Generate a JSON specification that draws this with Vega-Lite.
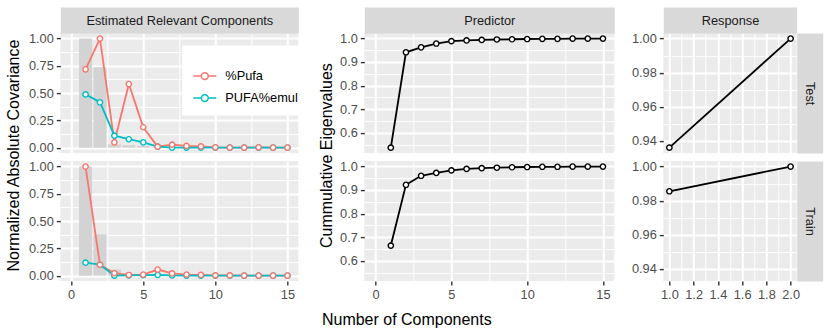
{
  "$schema": "https://vega.github.io/schema/vega-lite/v6.json",
  "padding": {"left": 5.3, "top": 14.1, "right": 8, "bottom": 4},
  "config": {
    "font": "Liberation Sans",
    "view": {"stroke": null},
    "axis": {
      "domain": false,
      "labelColor": "#4D4D4D",
      "labelFontSize": 12.8,
      "labelPadding": 3,
      "labelFlush": false,
      "labelOverlap": false,
      "tickColor": "#333333",
      "tickSize": 4,
      "tickWidth": 1.4,
      "gridColor": "#FFFFFF",
      "titleFontSize": 16,
      "titleFontWeight": "normal",
      "titleColor": "#000000"
    }
  },
  "datasets": {
    "cov": [
      {"set": "Test", "var": "%Pufa", "comp": 1, "value": 0.718},
      {"set": "Test", "var": "%Pufa", "comp": 2, "value": 1.0},
      {"set": "Test", "var": "%Pufa", "comp": 3, "value": 0.049},
      {"set": "Test", "var": "%Pufa", "comp": 4, "value": 0.583},
      {"set": "Test", "var": "%Pufa", "comp": 5, "value": 0.187},
      {"set": "Test", "var": "%Pufa", "comp": 6, "value": 0.009},
      {"set": "Test", "var": "%Pufa", "comp": 7, "value": 0.028},
      {"set": "Test", "var": "%Pufa", "comp": 8, "value": 0.016},
      {"set": "Test", "var": "%Pufa", "comp": 9, "value": 0.012},
      {"set": "Test", "var": "%Pufa", "comp": 10, "value": 0.003},
      {"set": "Test", "var": "%Pufa", "comp": 11, "value": 0.001},
      {"set": "Test", "var": "%Pufa", "comp": 12, "value": 0.001},
      {"set": "Test", "var": "%Pufa", "comp": 13, "value": 0.003},
      {"set": "Test", "var": "%Pufa", "comp": 14, "value": 0.001},
      {"set": "Test", "var": "%Pufa", "comp": 15, "value": 0.001},
      {"set": "Test", "var": "PUFA%emul", "comp": 1, "value": 0.488},
      {"set": "Test", "var": "PUFA%emul", "comp": 2, "value": 0.416},
      {"set": "Test", "var": "PUFA%emul", "comp": 3, "value": 0.11},
      {"set": "Test", "var": "PUFA%emul", "comp": 4, "value": 0.077},
      {"set": "Test", "var": "PUFA%emul", "comp": 5, "value": 0.049},
      {"set": "Test", "var": "PUFA%emul", "comp": 6, "value": 0.009},
      {"set": "Test", "var": "PUFA%emul", "comp": 7, "value": 0.001},
      {"set": "Test", "var": "PUFA%emul", "comp": 8, "value": 0.001},
      {"set": "Test", "var": "PUFA%emul", "comp": 9, "value": 0.001},
      {"set": "Test", "var": "PUFA%emul", "comp": 10, "value": 0.0},
      {"set": "Test", "var": "PUFA%emul", "comp": 11, "value": 0.0},
      {"set": "Test", "var": "PUFA%emul", "comp": 12, "value": 0.0},
      {"set": "Test", "var": "PUFA%emul", "comp": 13, "value": 0.0},
      {"set": "Test", "var": "PUFA%emul", "comp": 14, "value": 0.0},
      {"set": "Test", "var": "PUFA%emul", "comp": 15, "value": 0.0},
      {"set": "Train", "var": "%Pufa", "comp": 1, "value": 1.0},
      {"set": "Train", "var": "%Pufa", "comp": 2, "value": 0.1},
      {"set": "Train", "var": "%Pufa", "comp": 3, "value": 0.022},
      {"set": "Train", "var": "%Pufa", "comp": 4, "value": 0.006},
      {"set": "Train", "var": "%Pufa", "comp": 5, "value": 0.01},
      {"set": "Train", "var": "%Pufa", "comp": 6, "value": 0.056},
      {"set": "Train", "var": "%Pufa", "comp": 7, "value": 0.02},
      {"set": "Train", "var": "%Pufa", "comp": 8, "value": 0.01},
      {"set": "Train", "var": "%Pufa", "comp": 9, "value": 0.007},
      {"set": "Train", "var": "%Pufa", "comp": 10, "value": 0.002},
      {"set": "Train", "var": "%Pufa", "comp": 11, "value": 0.002},
      {"set": "Train", "var": "%Pufa", "comp": 12, "value": 0.001},
      {"set": "Train", "var": "%Pufa", "comp": 13, "value": 0.001},
      {"set": "Train", "var": "%Pufa", "comp": 14, "value": 0.001},
      {"set": "Train", "var": "%Pufa", "comp": 15, "value": 0.001},
      {"set": "Train", "var": "PUFA%emul", "comp": 1, "value": 0.119},
      {"set": "Train", "var": "PUFA%emul", "comp": 2, "value": 0.1},
      {"set": "Train", "var": "PUFA%emul", "comp": 3, "value": 0.0},
      {"set": "Train", "var": "PUFA%emul", "comp": 4, "value": 0.002},
      {"set": "Train", "var": "PUFA%emul", "comp": 5, "value": 0.004},
      {"set": "Train", "var": "PUFA%emul", "comp": 6, "value": 0.006},
      {"set": "Train", "var": "PUFA%emul", "comp": 7, "value": 0.002},
      {"set": "Train", "var": "PUFA%emul", "comp": 8, "value": 0.001},
      {"set": "Train", "var": "PUFA%emul", "comp": 9, "value": 0.001},
      {"set": "Train", "var": "PUFA%emul", "comp": 10, "value": 0.0},
      {"set": "Train", "var": "PUFA%emul", "comp": 11, "value": 0.0},
      {"set": "Train", "var": "PUFA%emul", "comp": 12, "value": 0.0},
      {"set": "Train", "var": "PUFA%emul", "comp": 13, "value": 0.0},
      {"set": "Train", "var": "PUFA%emul", "comp": 14, "value": 0.0},
      {"set": "Train", "var": "PUFA%emul", "comp": 15, "value": 0.0}
    ],
    "bars": [
      {"set": "Test", "comp": 1, "value": 1.0},
      {"set": "Test", "comp": 2, "value": 0.736},
      {"set": "Test", "comp": 3, "value": 0.03},
      {"set": "Test", "comp": 4, "value": 0.022},
      {"set": "Test", "comp": 5, "value": 0.015},
      {"set": "Test", "comp": 6, "value": 0.004},
      {"set": "Test", "comp": 7, "value": 0.003},
      {"set": "Test", "comp": 8, "value": 0.002},
      {"set": "Test", "comp": 9, "value": 0.001},
      {"set": "Test", "comp": 10, "value": 0.001},
      {"set": "Test", "comp": 11, "value": 0.001},
      {"set": "Test", "comp": 12, "value": 0.001},
      {"set": "Test", "comp": 13, "value": 0.001},
      {"set": "Test", "comp": 14, "value": 0.001},
      {"set": "Test", "comp": 15, "value": 0.001},
      {"set": "Train", "comp": 1, "value": 1.0},
      {"set": "Train", "comp": 2, "value": 0.378},
      {"set": "Train", "comp": 3, "value": 0.056},
      {"set": "Train", "comp": 4, "value": 0.01},
      {"set": "Train", "comp": 5, "value": 0.006},
      {"set": "Train", "comp": 6, "value": 0.004},
      {"set": "Train", "comp": 7, "value": 0.002},
      {"set": "Train", "comp": 8, "value": 0.001},
      {"set": "Train", "comp": 9, "value": 0.001},
      {"set": "Train", "comp": 10, "value": 0.001},
      {"set": "Train", "comp": 11, "value": 0.001},
      {"set": "Train", "comp": 12, "value": 0.001},
      {"set": "Train", "comp": 13, "value": 0.001},
      {"set": "Train", "comp": 14, "value": 0.001},
      {"set": "Train", "comp": 15, "value": 0.001}
    ],
    "eig": [
      {"set": "Test", "comp": 1, "value": 0.538},
      {"set": "Test", "comp": 2, "value": 0.941},
      {"set": "Test", "comp": 3, "value": 0.962},
      {"set": "Test", "comp": 4, "value": 0.978},
      {"set": "Test", "comp": 5, "value": 0.988},
      {"set": "Test", "comp": 6, "value": 0.991},
      {"set": "Test", "comp": 7, "value": 0.993},
      {"set": "Test", "comp": 8, "value": 0.995},
      {"set": "Test", "comp": 9, "value": 0.996},
      {"set": "Test", "comp": 10, "value": 0.997},
      {"set": "Test", "comp": 11, "value": 0.998},
      {"set": "Test", "comp": 12, "value": 0.998},
      {"set": "Test", "comp": 13, "value": 0.999},
      {"set": "Test", "comp": 14, "value": 0.999},
      {"set": "Test", "comp": 15, "value": 0.999},
      {"set": "Train", "comp": 1, "value": 0.665},
      {"set": "Train", "comp": 2, "value": 0.922},
      {"set": "Train", "comp": 3, "value": 0.96},
      {"set": "Train", "comp": 4, "value": 0.972},
      {"set": "Train", "comp": 5, "value": 0.983},
      {"set": "Train", "comp": 6, "value": 0.989},
      {"set": "Train", "comp": 7, "value": 0.992},
      {"set": "Train", "comp": 8, "value": 0.994},
      {"set": "Train", "comp": 9, "value": 0.996},
      {"set": "Train", "comp": 10, "value": 0.997},
      {"set": "Train", "comp": 11, "value": 0.998},
      {"set": "Train", "comp": 12, "value": 0.998},
      {"set": "Train", "comp": 13, "value": 0.999},
      {"set": "Train", "comp": 14, "value": 0.999},
      {"set": "Train", "comp": 15, "value": 0.999}
    ],
    "resp": [
      {"set": "Test", "comp": 1, "value": 0.936},
      {"set": "Test", "comp": 2, "value": 1.0},
      {"set": "Train", "comp": 1, "value": 0.9855},
      {"set": "Train", "comp": 2, "value": 1.0}
    ]
  },
  "columns": 5,
  "spacing": {"row": 8, "column": 0},
  "bounds": "flush",
  "align": "each",
  "resolve": {"scale": {"color": "independent"}, "legend": {"color": "independent"}},
  "concat": [
    {
      "width": 238, "height": 120,
      "view": {"fill": "#EBEBEB"},
      "encoding": {
        "x": {"field": "comp", "type": "quantitative", "scale": {"domain": [-0.75, 15.75], "nice": false, "zero": false, "padding": 0},
          "axis": {"orient": "top", "offset": 13, "domain": true, "domainColor": "#D9D9D9", "domainWidth": 26, "ticks": false, "labels": false, "grid": true,
            "values": [0, 2.5, 5, 7.5, 10, 12.5, 15],
            "gridWidth": {"condition": {"test": "datum.value % 5 === 0", "value": 2}, "value": 1},
            "title": "Estimated Relevant Components", "titleFontSize": 12.8, "titleColor": "#1A1A1A", "titleBaseline": "middle", "titleX": 119, "titleY": 0, "minExtent": 0, "maxExtent": 0}},
        "y": {"field": "value", "type": "quantitative", "scale": {"domain": [-0.05, 1.05], "nice": false},
          "axis": {"orient": "left", "values": [0, 0.125, 0.25, 0.375, 0.5, 0.625, 0.75, 0.875, 1], "grid": true,
            "gridWidth": {"condition": {"test": "abs(datum.value*4-round(datum.value*4))<0.001", "value": 2}, "value": 1},
            "tickOpacity": {"condition": {"test": "abs(datum.value*4-round(datum.value*4))<0.001", "value": 1}, "value": 0},
            "labelExpr": "abs(datum.value*4-round(datum.value*4))<0.001 ? format(datum.value, '.2f') : ''",
            "title": "Normalized Absolute Covariance", "titleX": -46.5, "titleY": 122, "titleBaseline": "middle"}}
      },
      "layer": [
        {
          "data": {"name": "bars"},
          "transform": [{"filter": "datum.set === 'Test'"}],
          "mark": {"type": "bar", "orient": "vertical", "width": 13, "color": "#D3D3D3"}
        },
        {
          "data": {"name": "cov"},
          "transform": [{"filter": "datum.set === 'Test'"}],
          "mark": {"type": "line", "strokeWidth": 1.8},
          "encoding": {
            "color": {"field": "var", "type": "nominal", "scale": {"domain": ["%Pufa", "PUFA%emul"], "range": ["#F8766D", "#00BFC4"]},
              "legend": {"orient": "none", "legendX": 122, "legendY": 12.5, "title": " ", "titleFontSize": 8, "titlePadding": 0,
                "fillColor": "#FFFFFF", "padding": 10, "symbolType": "M-1,0L-0.3,0M0.3,0L1,0M0.3,0A0.3,0.3,0,1,1,-0.3,0A0.3,0.3,0,1,1,0.3,0",
                "symbolSize": 529, "symbolStrokeWidth": 1.5, "symbolFillColor": "#FFFFFF", "labelFontSize": 12.8, "labelColor": "#000000", "labelOffset": 8, "rowPadding": 2,
                "encode": {"symbols": {"update": {"fill": {"value": "#FFFFFF"}, "strokeWidth": {"value": 1.5}}}}}}
          }
        },
        {
          "data": {"name": "cov"},
          "transform": [{"filter": "datum.set === 'Test'"}],
          "mark": {"type": "point", "shape": "circle", "filled": false, "fill": "#FFFFFF", "opacity": 1, "size": 28, "strokeWidth": 1.4},
          "encoding": {
            "color": {"field": "var", "type": "nominal", "scale": {"domain": ["%Pufa", "PUFA%emul"], "range": ["#F8766D", "#00BFC4"]},
              "legend": {"orient": "none", "legendX": 122, "legendY": 12.5, "title": " ", "titleFontSize": 8, "titlePadding": 0,
                "fillColor": "#FFFFFF", "padding": 10, "symbolType": "M-1,0L-0.3,0M0.3,0L1,0M0.3,0A0.3,0.3,0,1,1,-0.3,0A0.3,0.3,0,1,1,0.3,0",
                "symbolSize": 529, "symbolStrokeWidth": 1.5, "symbolFillColor": "#FFFFFF", "labelFontSize": 12.8, "labelColor": "#000000", "labelOffset": 8, "rowPadding": 2,
                "encode": {"symbols": {"update": {"fill": {"value": "#FFFFFF"}, "strokeWidth": {"value": 1.5}}}}}},
            "order": {"field": "var", "sort": "descending"}
          }
        }
      ]
    },
    {"width": 65.6, "height": 10, "data": {"values": []}, "mark": "point"},
    {
      "width": 250, "height": 120,
      "view": {"fill": "#EBEBEB"},
      "data": {"name": "eig"},
      "transform": [{"filter": "datum.set === 'Test'"}],
      "encoding": {
        "x": {"field": "comp", "type": "quantitative", "scale": {"domain": [-0.75, 15.75], "nice": false, "zero": false},
          "axis": {"orient": "top", "offset": 13, "domain": true, "domainColor": "#D9D9D9", "domainWidth": 26, "ticks": false, "labels": false, "grid": true,
            "values": [0, 2.5, 5, 7.5, 10, 12.5, 15],
            "gridWidth": {"condition": {"test": "datum.value % 5 === 0", "value": 2}, "value": 1},
            "title": "Predictor", "titleFontSize": 12.8, "titleColor": "#1A1A1A", "titleBaseline": "middle", "titleX": 125, "titleY": 0, "minExtent": 0, "maxExtent": 0}},
        "y": {"field": "value", "type": "quantitative", "scale": {"domain": [0.515, 1.022], "nice": false, "zero": false},
          "axis": {"orient": "left", "values": [0.55, 0.6, 0.65, 0.7, 0.75, 0.8, 0.85, 0.9, 0.95, 1.0], "grid": true,
            "gridWidth": {"condition": {"test": "abs(datum.value*10-round(datum.value*10))<0.001", "value": 2}, "value": 1},
            "tickOpacity": {"condition": {"test": "abs(datum.value*10-round(datum.value*10))<0.001", "value": 1}, "value": 0},
            "labelExpr": "abs(datum.value*10-round(datum.value*10))<0.001 ? format(datum.value, '.1f') : ''",
            "title": "Cummulative Eigenvalues", "titleX": -37.8, "titleY": 122, "titleBaseline": "middle"}}
      },
      "layer": [
        {"mark": {"type": "line", "color": "#000000", "strokeWidth": 1.8}},
        {"mark": {"type": "point", "shape": "circle", "filled": false, "fill": "#FFFFFF", "stroke": "#000000", "opacity": 1, "size": 28, "strokeWidth": 1.4}}
      ]
    },
    {"width": 48.4, "height": 10, "data": {"values": []}, "mark": "point"},
    {
      "width": 133.4, "height": 120,
      "view": {"fill": "#EBEBEB"},
      "data": {"name": "resp"},
      "transform": [{"filter": "datum.set === 'Test'"}],
      "resolve": {"axis": {"y": "independent"}},
      "encoding": {
        "x": {"field": "comp", "type": "quantitative", "scale": {"domain": [0.95, 2.05], "nice": false, "zero": false},
          "axis": {"orient": "top", "offset": 13, "domain": true, "domainColor": "#D9D9D9", "domainWidth": 26, "ticks": false, "labels": false, "grid": true,
            "values": [1.0, 1.1, 1.2, 1.3, 1.4, 1.5, 1.6, 1.7, 1.8, 1.9, 2.0],
            "gridWidth": {"condition": {"test": "abs(datum.value*5-round(datum.value*5))<0.001", "value": 2}, "value": 1},
            "title": "Response", "titleFontSize": 12.8, "titleColor": "#1A1A1A", "titleBaseline": "middle", "titleX": 66.7, "titleY": 0, "minExtent": 0, "maxExtent": 0}},
        "y": {"field": "value", "type": "quantitative", "scale": {"domain": [0.9328, 1.0032], "nice": false, "zero": false},
          "axis": {"orient": "left", "values": [0.94, 0.95, 0.96, 0.97, 0.98, 0.99, 1.0], "grid": true,
            "gridWidth": {"condition": {"test": "abs(datum.value*50-round(datum.value*50))<0.001", "value": 2}, "value": 1},
            "tickOpacity": {"condition": {"test": "abs(datum.value*50-round(datum.value*50))<0.001", "value": 1}, "value": 0},
            "labelExpr": "abs(datum.value*50-round(datum.value*50))<0.001 ? format(datum.value, '.2f') : ''",
            "title": null}}
      },
      "layer": [
        {"mark": {"type": "line", "color": "#000000", "strokeWidth": 1.8}},
        {
          "mark": {"type": "point", "shape": "circle", "filled": false, "fill": "#FFFFFF", "stroke": "#000000", "opacity": 1, "size": 28, "strokeWidth": 1.4},
          "encoding": {
            "y": {"field": "value", "type": "quantitative", "scale": {"domain": [0.9328, 1.0032], "nice": false, "zero": false},
              "axis": {"orient": "right", "offset": 13, "domain": true, "domainColor": "#D9D9D9", "domainWidth": 26, "ticks": false, "labels": false, "grid": false,
                "title": "Test", "titleAngle": 90, "titleFontSize": 12.8, "titleColor": "#1A1A1A", "titleBaseline": "middle", "titleX": 0, "titleY": 60, "minExtent": 0, "maxExtent": 0}}
          }
        }
      ]
    },
    {
      "width": 238, "height": 120,
      "view": {"fill": "#EBEBEB"},
      "encoding": {
        "x": {"field": "comp", "type": "quantitative", "scale": {"domain": [-0.75, 15.75], "nice": false, "zero": false, "padding": 0},
          "axis": {"orient": "bottom", "values": [0, 2.5, 5, 7.5, 10, 12.5, 15], "grid": true,
            "gridWidth": {"condition": {"test": "datum.value % 5 === 0", "value": 2}, "value": 1},
            "tickOpacity": {"condition": {"test": "datum.value % 5 === 0", "value": 1}, "value": 0},
            "labelExpr": "datum.value % 5 === 0 ? format(datum.value, 'd') : ''",
            "title": null}},
        "y": {"field": "value", "type": "quantitative", "scale": {"domain": [-0.05, 1.05], "nice": false},
          "axis": {"orient": "left", "values": [0, 0.125, 0.25, 0.375, 0.5, 0.625, 0.75, 0.875, 1], "grid": true,
            "gridWidth": {"condition": {"test": "abs(datum.value*4-round(datum.value*4))<0.001", "value": 2}, "value": 1},
            "tickOpacity": {"condition": {"test": "abs(datum.value*4-round(datum.value*4))<0.001", "value": 1}, "value": 0},
            "labelExpr": "abs(datum.value*4-round(datum.value*4))<0.001 ? format(datum.value, '.2f') : ''",
            "title": null}}
      },
      "layer": [
        {
          "data": {"name": "bars"},
          "transform": [{"filter": "datum.set === 'Train'"}],
          "mark": {"type": "bar", "orient": "vertical", "width": 13, "color": "#D3D3D3"}
        },
        {
          "data": {"name": "cov"},
          "transform": [{"filter": "datum.set === 'Train'"}],
          "mark": {"type": "line", "strokeWidth": 1.8},
          "encoding": {
            "color": {"field": "var", "type": "nominal", "scale": {"domain": ["%Pufa", "PUFA%emul"], "range": ["#F8766D", "#00BFC4"]}, "legend": null}
          }
        },
        {
          "data": {"name": "cov"},
          "transform": [{"filter": "datum.set === 'Train'"}],
          "mark": {"type": "point", "shape": "circle", "filled": false, "fill": "#FFFFFF", "opacity": 1, "size": 28, "strokeWidth": 1.4},
          "encoding": {
            "color": {"field": "var", "type": "nominal", "scale": {"domain": ["%Pufa", "PUFA%emul"], "range": ["#F8766D", "#00BFC4"]}, "legend": null},
            "order": {"field": "var", "sort": "descending"}
          }
        }
      ]
    },
    {"width": 65.6, "height": 10, "data": {"values": []}, "mark": "point"},
    {
      "width": 250, "height": 120,
      "view": {"fill": "#EBEBEB"},
      "data": {"name": "eig"},
      "transform": [{"filter": "datum.set === 'Train'"}],
      "encoding": {
        "x": {"field": "comp", "type": "quantitative", "scale": {"domain": [-0.75, 15.75], "nice": false, "zero": false},
          "axis": {"orient": "bottom", "values": [0, 2.5, 5, 7.5, 10, 12.5, 15], "grid": true,
            "gridWidth": {"condition": {"test": "datum.value % 5 === 0", "value": 2}, "value": 1},
            "tickOpacity": {"condition": {"test": "datum.value % 5 === 0", "value": 1}, "value": 0},
            "labelExpr": "datum.value % 5 === 0 ? format(datum.value, 'd') : ''",
            "title": "Number of Components", "titleX": 42, "titleY": 38.2, "titleBaseline": "middle"}},
        "y": {"field": "value", "type": "quantitative", "scale": {"domain": [0.515, 1.022], "nice": false, "zero": false},
          "axis": {"orient": "left", "values": [0.55, 0.6, 0.65, 0.7, 0.75, 0.8, 0.85, 0.9, 0.95, 1.0], "grid": true,
            "gridWidth": {"condition": {"test": "abs(datum.value*10-round(datum.value*10))<0.001", "value": 2}, "value": 1},
            "tickOpacity": {"condition": {"test": "abs(datum.value*10-round(datum.value*10))<0.001", "value": 1}, "value": 0},
            "labelExpr": "abs(datum.value*10-round(datum.value*10))<0.001 ? format(datum.value, '.1f') : ''",
            "title": null}}
      },
      "layer": [
        {"mark": {"type": "line", "color": "#000000", "strokeWidth": 1.8}},
        {"mark": {"type": "point", "shape": "circle", "filled": false, "fill": "#FFFFFF", "stroke": "#000000", "opacity": 1, "size": 28, "strokeWidth": 1.4}}
      ]
    },
    {"width": 48.4, "height": 10, "data": {"values": []}, "mark": "point"},
    {
      "width": 133.4, "height": 120,
      "view": {"fill": "#EBEBEB"},
      "data": {"name": "resp"},
      "transform": [{"filter": "datum.set === 'Train'"}],
      "resolve": {"axis": {"y": "independent"}},
      "encoding": {
        "x": {"field": "comp", "type": "quantitative", "scale": {"domain": [0.95, 2.05], "nice": false, "zero": false},
          "axis": {"orient": "bottom", "values": [1.0, 1.1, 1.2, 1.3, 1.4, 1.5, 1.6, 1.7, 1.8, 1.9, 2.0], "grid": true,
            "gridWidth": {"condition": {"test": "abs(datum.value*5-round(datum.value*5))<0.001", "value": 2}, "value": 1},
            "tickOpacity": {"condition": {"test": "abs(datum.value*5-round(datum.value*5))<0.001", "value": 1}, "value": 0},
            "labelExpr": "abs(datum.value*5-round(datum.value*5))<0.001 ? format(datum.value, '.1f') : ''",
            "title": null}},
        "y": {"field": "value", "type": "quantitative", "scale": {"domain": [0.9328, 1.0032], "nice": false, "zero": false},
          "axis": {"orient": "left", "values": [0.94, 0.95, 0.96, 0.97, 0.98, 0.99, 1.0], "grid": true,
            "gridWidth": {"condition": {"test": "abs(datum.value*50-round(datum.value*50))<0.001", "value": 2}, "value": 1},
            "tickOpacity": {"condition": {"test": "abs(datum.value*50-round(datum.value*50))<0.001", "value": 1}, "value": 0},
            "labelExpr": "abs(datum.value*50-round(datum.value*50))<0.001 ? format(datum.value, '.2f') : ''",
            "title": null}}
      },
      "layer": [
        {"mark": {"type": "line", "color": "#000000", "strokeWidth": 1.8}},
        {
          "mark": {"type": "point", "shape": "circle", "filled": false, "fill": "#FFFFFF", "stroke": "#000000", "opacity": 1, "size": 28, "strokeWidth": 1.4},
          "encoding": {
            "y": {"field": "value", "type": "quantitative", "scale": {"domain": [0.9328, 1.0032], "nice": false, "zero": false},
              "axis": {"orient": "right", "offset": 13, "domain": true, "domainColor": "#D9D9D9", "domainWidth": 26, "ticks": false, "labels": false, "grid": false,
                "title": "Train", "titleAngle": 90, "titleFontSize": 12.8, "titleColor": "#1A1A1A", "titleBaseline": "middle", "titleX": 0, "titleY": 60, "minExtent": 0, "maxExtent": 0}}
          }
        }
      ]
    }
  ]
}
